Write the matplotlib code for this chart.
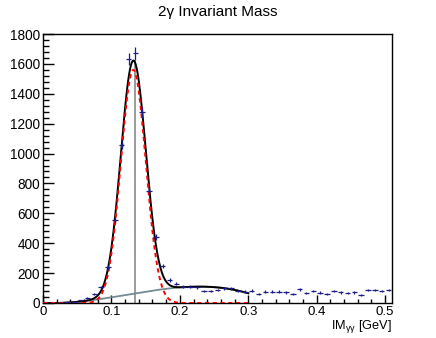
#!/usr/bin/env python3
"""2-photon invariant mass histogram with Gaussian + polynomial background fit."""

import matplotlib
matplotlib.use("Agg")
import matplotlib.pyplot as plt
import numpy as np
from matplotlib.ticker import MultipleLocator

plt.rcParams["font.family"] = ["Liberation Sans", "DejaVu Sans"]
plt.rcParams["mathtext.fontset"] = "custom"
plt.rcParams["mathtext.rm"] = "Liberation Sans"
plt.rcParams["mathtext.it"] = "Liberation Sans"

# ── Data ──────────────────────────────────────────────────────────────────────

BIN_CENTERS = [
    0.025, 0.035, 0.045, 0.055, 0.065, 0.075, 0.085, 0.095, 0.105, 0.115,
    0.125, 0.135, 0.145, 0.155, 0.165, 0.175, 0.185, 0.195, 0.205, 0.215,
    0.225, 0.235, 0.245, 0.255, 0.265, 0.275, 0.285, 0.295, 0.305, 0.315,
    0.325, 0.335, 0.345, 0.355, 0.365, 0.375, 0.385, 0.395, 0.405, 0.415,
    0.425, 0.435, 0.445, 0.455, 0.465, 0.475, 0.485, 0.495, 0.505,
]
COUNTS = [
    3, 6, 10, 18, 33, 60, 105, 238, 558, 1060,
    1630, 1670, 1275, 748, 440, 248, 155, 130, 108, 109,
    105, 80, 80, 87, 100, 98, 80, 75, 82, 60,
    75, 75, 75, 71, 60, 91, 65, 80, 69, 58,
    80, 71, 65, 71, 53, 87, 87, 80, 87,
]

# fit results: gaussian signal + cubic background
GAUS_AMP = 1560.0
GAUS_MEAN = 0.1320
GAUS_SIGMA = 0.0182
BKG_COEFFS = [-22470.0, 8223.1, -233.15, 1.553]   # highest power first
FIT_RANGE = (0.0, 0.30)
BKG_START = 0.02

PI0_MASS = 0.135
PI0_LINE_TOP = 1620

# ── Plot ──────────────────────────────────────────────────────────────────────

fig = plt.figure(figsize=(4.36, 3.38), dpi=100)
ax = fig.add_axes([43 / 436, 1 - 303 / 338, 349 / 436, 269 / 338])

x = np.array(BIN_CENTERS)
y = np.array(COUNTS, dtype=float)
ax.errorbar(x, y, xerr=0.004, yerr=np.sqrt(y), fmt="none",
            ecolor="#1c1c88", elinewidth=0.9, capsize=0, zorder=4)

xs = np.linspace(*FIT_RANGE, 400)
sig = GAUS_AMP * np.exp(-0.5 * ((xs - GAUS_MEAN) / GAUS_SIGMA) ** 2)
bkg = np.polyval(BKG_COEFFS, xs)
xb = xs[xs >= BKG_START]
ax.plot(xb, np.polyval(BKG_COEFFS, xb), color="#738c94", lw=1.3, zorder=2)
ax.plot(xs, sig + np.clip(bkg, 0, None), color="black", lw=1.4, zorder=3)
ax.plot(xs, sig, color="red", lw=1.4, ls=(0, (2.2, 1.8)), zorder=3)

ax.plot([PI0_MASS, PI0_MASS], [0, PI0_LINE_TOP], color="#808080", lw=1.1, zorder=1)

ax.set_xlim(0, 0.51)
ax.set_ylim(0, 1800)
ax.xaxis.set_major_locator(MultipleLocator(0.1))
ax.xaxis.set_minor_locator(MultipleLocator(0.02))
ax.yaxis.set_major_locator(MultipleLocator(200))
ax.yaxis.set_minor_locator(MultipleLocator(40))
ax.xaxis.set_major_formatter(plt.FuncFormatter(lambda v, p: f"{v:g}"))

ax.tick_params(axis="both", which="both", direction="in", labelsize=9.8,
               top=False, right=False, width=1)
ax.tick_params(axis="x", which="major", length=6, pad=2.5, labelsize=9.5)
ax.tick_params(axis="x", which="minor", length=3)
ax.tick_params(axis="y", which="major", length=8, pad=2)
ax.tick_params(axis="y", which="minor", length=4)
for s in ax.spines.values():
    s.set_linewidth(1)

ax.set_xlabel(r"IM$_{\mathregular{γγ}}$ [GeV]", fontsize=9.2, loc="right", labelpad=0)
fig.suptitle("2γ Invariant Mass", fontsize=11, y=0.985)

fig.savefig("out.png", dpi=100)
